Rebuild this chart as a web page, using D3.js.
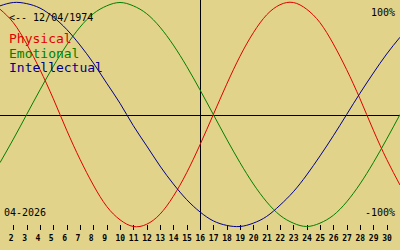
<!DOCTYPE html>
<html>
<head>
<meta charset="utf-8">
<script src="https://cdn.jsdelivr.net/npm/d3@7"></script>
<style>
  body { margin: 0; background: #e1d389; }
  svg { display: block; }
  text { font-family: "DejaVu Sans Mono", monospace; }
</style>
</head>
<body>
<div id="chart"></div>
<script>
// days of the month shown, day 1 at left edge, day 31 at right edge
var days = d3.range(1, 32);
var tickDays = d3.range(2, 31);
var today = 16;

// biorhythm values in percent, read per day off the chart
var physical = [94, 82, 63, 40, 14, -14, -40, -63, -82, -94, -100, -98, -89, -73, -52, -27,
  0, 27, 52, 73, 89, 98, 100, 94, 82, 63, 40, 14, -14, -40, -63];
var emotional = [-43, -22, 0, 22, 43, 62, 78, 90, 97, 100, 97, 90, 78, 62, 43, 22,
  0, -22, -43, -62, -78, -90, -97, -100, -97, -90, -78, -62, -43, -22, 0];
var intellectual = [97, 100, 99, 95, 87, 76, 62, 46, 28, 10, -10, -28, -46, -62, -76, -87,
  -95, -99, -100, -97, -91, -81, -69, -54, -37, -19, 0, 19, 37, 54, 69];

var seriesNames = ["Physical", "Emotional", "Intellectual"];
var seriesColors = ["#e00000", "#008000", "#000090"];

var width = 400, height = 250;

var svg = d3.select("#chart").append("svg")
  .attr("width", width)
  .attr("height", height);

var x = d3.scaleLinear().domain([1, 31]).range([0, width]);
var y = d3.scaleLinear().domain([-100, 100]).range([226.5, 2.5]);

// zero line
svg.append("line")
  .attr("x1", 0).attr("x2", width)
  .attr("y1", Math.round(y(0)) + 0.5).attr("y2", Math.round(y(0)) + 0.5)
  .attr("stroke", "#000")
  .attr("shape-rendering", "crispEdges");

// today line
svg.append("line")
  .attr("x1", Math.round(x(today)) + 0.5).attr("x2", Math.round(x(today)) + 0.5)
  .attr("y1", 0).attr("y2", 230)
  .attr("stroke", "#000")
  .attr("shape-rendering", "crispEdges");

// day axis, labels sit left-aligned like a 2 char field
var axis = svg.append("g")
  .attr("transform", "translate(0,225)")
  .call(d3.axisBottom(x).tickValues(tickDays).tickSize(5).tickSizeOuter(0));
axis.select(".domain").remove();
axis.selectAll(".tick line").attr("shape-rendering", "crispEdges");
axis.selectAll(".tick text")
  .attr("y", 16).attr("dy", null)
  .attr("x", -5)
  .attr("text-anchor", "start")
  .style("font-family", "'DejaVu Sans Mono', monospace")
  .style("font-size", "8px")
  .style("font-weight", "bold");

// curves
var line = d3.line()
  .x(function(d, i) { return x(days[i]); })
  .y(function(d) { return y(d); })
  .curve(d3.curveNatural);

[physical, emotional, intellectual].forEach(function(vals, i) {
  svg.append("path")
    .attr("d", line(vals))
    .attr("fill", "none")
    .attr("stroke", seriesColors[i])
    .attr("stroke-width", 1);
});

// labels
svg.append("text").attr("x", 9).attr("y", 21)
  .style("font-size", "10px").text("<-- 12/04/1974");

seriesNames.forEach(function(name, i) {
  svg.append("text")
    .attr("x", 9).attr("y", 43 + i * 14.5)
    .attr("fill", seriesColors[i])
    .style("font-size", "13px")
    .text(name);
});

svg.append("text").attr("x", 395).attr("y", 16).attr("text-anchor", "end")
  .style("font-size", "10px").text("100%");
svg.append("text").attr("x", 395).attr("y", 216).attr("text-anchor", "end")
  .style("font-size", "10px").text("-100%");
svg.append("text").attr("x", 4).attr("y", 216)
  .style("font-size", "10px").text("04-2026");
</script>
</body>
</html>
